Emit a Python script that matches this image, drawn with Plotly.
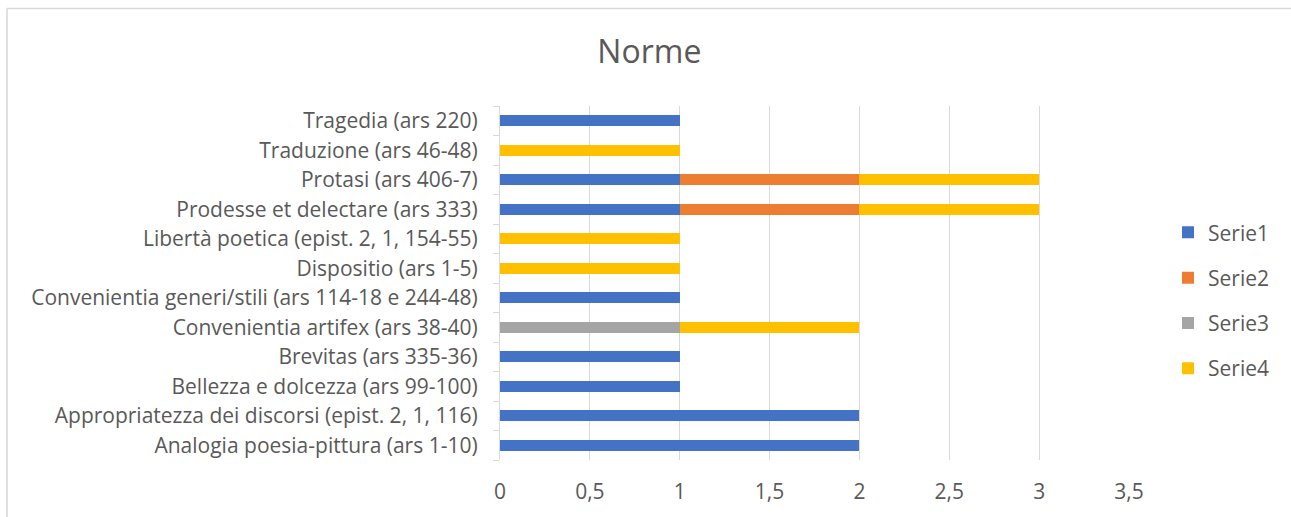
import plotly.graph_objects as go

# Categories listed bottom-to-top (first category sits at the bottom of the y axis)
categories = [
    "Analogia poesia-pittura (ars 1-10)",
    "Appropriatezza dei discorsi (epist. 2, 1, 116)",
    "Bellezza e dolcezza (ars 99-100)",
    "Brevitas (ars 335-36)",
    "Convenientia artifex (ars 38-40)",
    "Convenientia generi/stili (ars 114-18 e 244-48)",
    "Dispositio (ars 1-5)",
    "Libertà poetica (epist. 2, 1, 154-55)",
    "Prodesse et delectare (ars 333)",
    "Protasi (ars 406-7)",
    "Traduzione (ars 46-48)",
    "Tragedia (ars 220)",
]
serie1 = [2, 2, 1, 1, 0, 1, 0, 0, 1, 1, 0, 1]
serie2 = [0, 0, 0, 0, 0, 0, 0, 0, 1, 1, 0, 0]
serie3 = [0, 0, 0, 0, 1, 0, 0, 0, 0, 0, 0, 0]
serie4 = [0, 0, 0, 0, 1, 0, 1, 1, 1, 1, 1, 0]

series_names = ["Serie1", "Serie2", "Serie3", "Serie4"]
series_values = [serie1, serie2, serie3, serie4]
series_colors = ["#4472C4", "#ED7D31", "#A5A5A5", "#FFC000"]

x_ticks = [0, 0.5, 1, 1.5, 2, 2.5, 3, 3.5]
x_ticklabels = ["0", "0,5", "1", "1,5", "2", "2,5", "3", "3,5"]

FONT = "Open Sans"
TEXT_COLOR = "#595959"
TICK_SIZE = 21

fig = go.Figure()
for name, vals, col in zip(series_names, series_values, series_colors):
    fig.add_trace(go.Bar(
        y=categories, x=vals, name=name, orientation="h",
        marker=dict(color=col, line=dict(width=0)),
        legendgroup=name,
    ))

fig.update_layout(
    width=1291, height=517,
    barmode="stack", bargap=0.63,
    paper_bgcolor="white", plot_bgcolor="white",
    margin=dict(l=500, r=162, t=106, b=57),
    font=dict(family=FONT, color=TEXT_COLOR, size=TICK_SIZE),
    title=dict(text="Norme", x=0.503, xanchor="center", y=0.9, yanchor="middle",
               font=dict(family=FONT, size=32, color=TEXT_COLOR)),
    showlegend=True,
    legend=dict(x=1.062, xanchor="left", y=0.45, yanchor="middle",
                traceorder="grouped", tracegroupgap=15,
                font=dict(family=FONT, size=TICK_SIZE, color=TEXT_COLOR),
                bgcolor="rgba(0,0,0,0)"),
    xaxis=dict(range=[0, 3.5], tickvals=x_ticks, ticktext=x_ticklabels,
               showgrid=True, gridcolor="#d9d9d9", gridwidth=1.3,
               zeroline=False, showline=False, ticks="",
               ticklabelstandoff=17,
               tickfont=dict(family=FONT, size=TICK_SIZE, color=TEXT_COLOR)),
    yaxis=dict(type="category", categoryorder="array", categoryarray=categories,
               showgrid=False, zeroline=False,
               showline=True, linecolor="#d9d9d9", linewidth=1.3,
               ticks="outside", tickson="boundaries", ticklen=6,
               tickcolor="#d9d9d9", tickwidth=1.3,
               ticklabelstandoff=17,
               tickfont=dict(family=FONT, size=TICK_SIZE, color=TEXT_COLOR)),
)

# Chart-area frame: top and left edges
frame_line = dict(color="#d9d9d9", width=1.6)
fig.add_shape(type="line", xref="paper", yref="paper",
              x0=-0.7838, x1=1.5, y0=1.2754, y1=1.2754, line=frame_line, layer="below")
fig.add_shape(type="line", xref="paper", yref="paper",
              x0=-0.7838, x1=-0.7838, y0=-0.3, y1=1.2754, line=frame_line, layer="below")

fig.write_html("out.html", config={"displayModeBar": False})
